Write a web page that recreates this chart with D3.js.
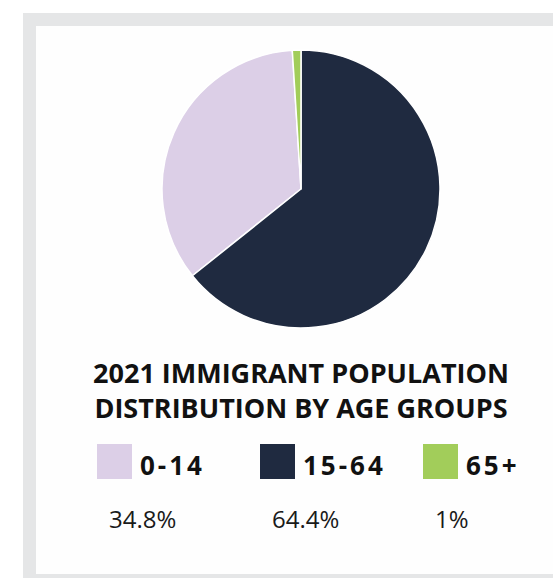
<!DOCTYPE html>
<html>
<head>
<meta charset="utf-8">
<script src="https://cdn.jsdelivr.net/npm/d3@7"></script>
<style>
  body { margin: 0; background: #fff; }
  svg { display: block; }
</style>
</head>
<body>
<div id="chart"></div>
<script>
// age groups, legend order
var groups = ["0-14", "15-64", "65+"];
var shares = [34.8, 64.4, 1];
var shareLabels = ["34.8%", "64.4%", "1%"];
var colors = ["#dccfe7", "#1f2a40", "#a2cd5a"];
var titleLines = ["2021 IMMIGRANT POPULATION", "DISTRIBUTION BY AGE GROUPS"];

var width = 553, height = 578;

var svg = d3.select("#chart")
  .append("svg")
    .attr("width", width)
    .attr("height", height);

// grey frame + white card
svg.append("rect")
    .attr("x", 23).attr("y", 13)
    .attr("width", width - 23).attr("height", height - 13)
    .attr("fill", "#e5e6e7");
svg.append("rect")
    .attr("x", 36).attr("y", 26)
    .attr("width", width - 36).attr("height", 548)
    .attr("fill", "#fefefe");

var data = groups.map(function(g, i) {
  return {group: g, value: shares[i], label: shareLabels[i]};
});

var color = d3.scaleOrdinal()
  .domain(groups)
  .range(colors);

// pie - default sort is descending, which is how the original is laid out
var pie = d3.pie()
  .value(function(d) { return d.value; });

var radius = 139;
var arc = d3.arc()
  .innerRadius(0)
  .outerRadius(radius);

var pieG = svg.append("g")
    .attr("transform", "translate(301,189)");

pieG.selectAll("path")
  .data(pie(data))
  .enter()
  .append("path")
    .attr("d", arc)
    .attr("fill", function(d) { return color(d.data.group); })
    .attr("stroke", "#fff")
    .attr("stroke-width", 1.5)
    .attr("stroke-linejoin", "round");

// title
svg.append("g")
  .selectAll("text")
  .data(titleLines)
  .enter()
  .append("text")
    .attr("x", 301)
    .attr("y", function(d, i) { return 383 + i * 34.5; })
    .attr("text-anchor", "middle")
    .style("font-family", "'Open Sans', sans-serif")
    .style("font-weight", 700)
    .style("font-size", "27px")
    .attr("fill", "#111")
    .text(function(d) { return d; });

// legend
var legendX = d3.scaleBand()
  .domain(groups)
  .range([97, 97 + 163 * 3]);

var item = svg.append("g")
    .attr("class", "legend")
  .selectAll("g")
  .data(data)
  .enter()
  .append("g")
    .attr("transform", function(d) { return "translate(" + legendX(d.group) + ",0)"; });

item.append("rect")
    .attr("x", 0)
    .attr("y", 444)
    .attr("width", 35)
    .attr("height", 35)
    .attr("fill", function(d) { return color(d.group); });

item.append("text")
    .attr("x", 43)
    .attr("y", 475)
    .style("font-family", "'Open Sans', sans-serif")
    .style("font-weight", 700)
    .style("font-size", "26px")
    .style("letter-spacing", "3px")
    .attr("fill", "#111")
    .text(function(d) { return d.group; });

item.append("text")
    .attr("x", 12)
    .attr("y", 528)
    .style("font-family", "'Open Sans', sans-serif")
    .style("font-size", "24px")
    .attr("fill", "#1a1a1a")
    .text(function(d) { return d.label; });
</script>
</body>
</html>
